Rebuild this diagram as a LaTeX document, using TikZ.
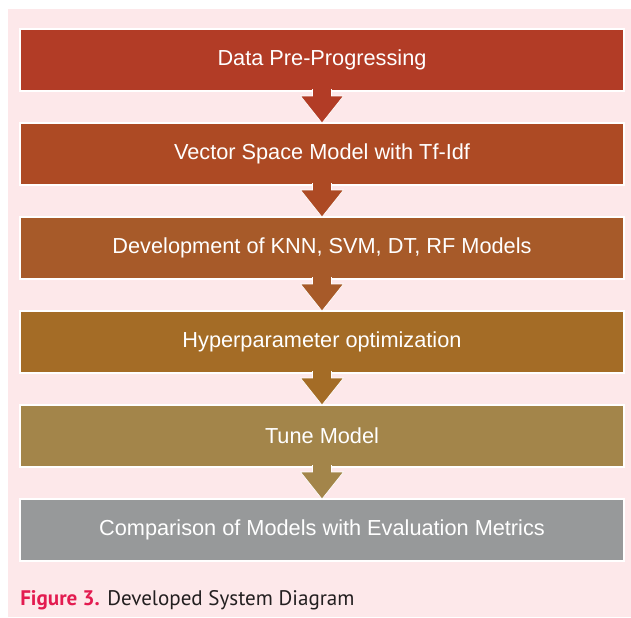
\documentclass[tikz,border=0pt]{standalone}
\usepackage{fontspec}
\setmainfont{Liberation Sans}
\newfontfamily\capfont{PT Sans}
\usepackage{xcolor}
\definecolor{pagepink}{HTML}{FDE8EA}
\definecolor{prered}{HTML}{B23C26}
\definecolor{vsmred}{HTML}{AD4A24}
\definecolor{devorange}{HTML}{A75A29}
\definecolor{hypbrown}{HTML}{A46C26}
\definecolor{tuneolive}{HTML}{A3854A}
\definecolor{compgrey}{HTML}{97999A}
\definecolor{figred}{HTML}{E31B50}
\definecolor{captext}{HTML}{231F20}
\usetikzlibrary{positioning, calc}

\begin{document}
\begin{tikzpicture}[x=0.75pt, y=-0.75pt, node distance=22.5pt,
        block/.style={rectangle, draw=white, line width=1.5pt, minimum width=453pt, minimum height=46.5pt, inner sep=0pt, text=white, font=\fontsize{16.3}{19}\selectfont},
        fatarrow/.style={draw=white, line width=0.5pt, to path={($(\tikztostart)+(9.5,-3)$) -- ($(\tikztotarget)+(9.5,-26)$) -- ($(\tikztotarget)+(21.5,-26)$) -- ($(\tikztotarget)+(0,1)$) -- ($(\tikztotarget)+(-21.5,-26)$) -- ($(\tikztotarget)+(-9.5,-26)$) -- ($(\tikztostart)+(-9.5,-3)$)}}]

        % page and frame
        \fill[white] (0,0) rectangle (631,617);
        \useasboundingbox (0,0) rectangle (631,617);
        \fill[pagepink] (8,9) rectangle (631,617);

        \node [block, fill=prered] (prep) at (322,60) {Data Pre-Progressing};
        \node [block, fill=vsmred, below=of prep] (vsm) {Vector Space Model with Tf-Idf};
        \node [block, fill=devorange, below=of vsm] (models) {Development of KNN, SVM, DT, RF Models};
        \node [block, fill=hypbrown, below=of models] (hyper) {Hyperparameter optimization};
        \node [block, fill=tuneolive, below=of hyper] (tune) {Tune Model};
        \node [block, fill=compgrey, below=of tune] (compare) {Comparison of Models with Evaluation Metrics};

        \path [fatarrow, fill=prered] (prep.south) to (vsm.north);
        \path [fatarrow, fill=vsmred] (vsm.south) to (models.north);
        \path [fatarrow, fill=devorange] (models.south) to (hyper.north);
        \path [fatarrow, fill=hypbrown] (hyper.south) to (tune.north);
        \path [fatarrow, fill=tuneolive] (tune.south) to (compare.north);

        % caption
        \node [anchor=base west, inner sep=0pt, text=captext, font=\capfont\fontsize{15.8}{18}\selectfont] (caption) at (20,605) {\textcolor{figred}{\bfseries Figure 3.} Developed System Diagram};
    \end{tikzpicture}
\end{document}
